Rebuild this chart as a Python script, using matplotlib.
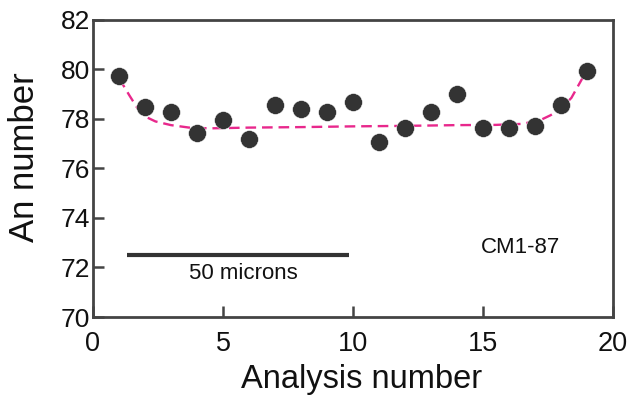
import matplotlib
matplotlib.use("Agg")
import matplotlib.pyplot as plt

plt.rcParams['font.family'] = ['Liberation Sans', 'DejaVu Sans']

analysis = list(range(1, 20))
an_values = [79.75, 78.5, 78.3, 77.45, 77.95, 77.2, 78.55, 78.4, 78.3, 78.7,
             77.05, 77.65, 78.3, 79.0, 77.65, 77.65, 77.7, 78.55, 79.95]

fit_x = [1.0, 1.2, 1.4, 1.7, 2.0, 2.4, 3.0, 3.7, 4.5, 6, 8, 10, 12, 14, 15.5,
         16.5, 17.2, 17.6, 18.0, 18.4, 18.8, 19.0]
fit_y = [79.65, 79.3, 78.95, 78.45, 78.1, 77.9, 77.75, 77.65, 77.62, 77.65, 77.67,
         77.7, 77.72, 77.75, 77.76, 77.8, 77.95, 78.15, 78.42, 78.85, 79.6, 79.95]

scale_bar_x = [1.3, 9.84]
scale_bar_y = [72.5, 72.5]

xticks = [0, 5, 10, 15, 20]
yticks = [70, 72, 74, 76, 78, 80, 82]

fig = plt.figure(figsize=(6.3, 3.98), dpi=100)
ax = fig.add_axes([0.1476, 0.2035, 0.8254, 0.7465])

ax.plot(fit_x, fit_y, linestyle=(0, (4.5, 2.5)), color='#e8288c', linewidth=1.7, zorder=2)
ax.plot(analysis, an_values, 'o', color='#333333', markersize=12.8, zorder=3,
        markeredgecolor='white', markeredgewidth=0.3)
ax.plot(scale_bar_x, scale_bar_y, color='#333333', linewidth=3, solid_capstyle='butt')

ax.text(5.77, 71.75, '50 microns', ha='center', va='center', fontsize=16, color='#111111')
ax.text(16.45, 72.8, 'CM1-87', ha='center', va='center', fontsize=16, color='#111111')

ax.set_xlim(0, 20)
ax.set_ylim(70, 82)
ax.set_xticks(xticks)
ax.set_yticks(yticks)
ax.tick_params(direction='in', length=8, width=1.8, color='#444444', labelsize=19,
               labelcolor='#111111')
ax.tick_params(axis='x', pad=10, labelsize=19.5)
ax.tick_params(axis='y', pad=2)
for s in ax.spines.values():
    s.set_linewidth(2)
    s.set_color('#444444')

ax.set_xlabel('Analysis number', fontsize=23.5, color='#111111', va='top')
ax.xaxis.set_label_coords(0.516, -0.158)
ax.set_ylabel('An number', fontsize=25, color='#111111')
ax.yaxis.set_label_coords(-0.1, 0.537)

fig.savefig('out.png', dpi=100)
